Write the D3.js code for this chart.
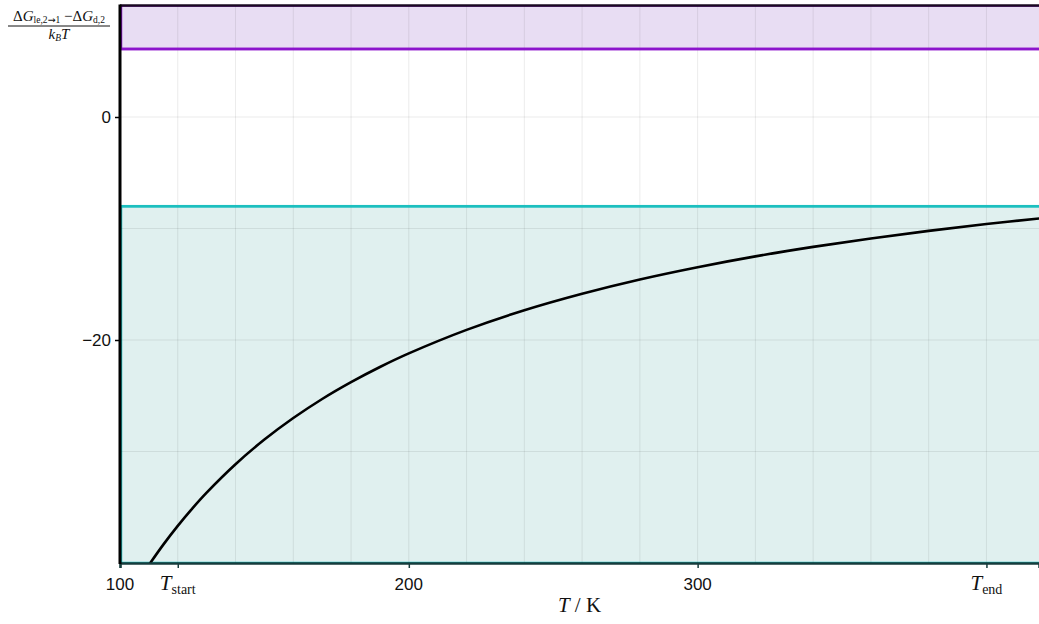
<!DOCTYPE html>
<html>
<head>
<meta charset="utf-8">
<script src="https://cdn.jsdelivr.net/npm/d3@7"></script>
<style>
	body { margin: 0; background: #fff; }
	svg { display: block; }
</style>
</head>
<body>
<script>
let width = 1039;
let height = 624;

// curve
const temps = [110, 115, 120, 125, 130, 140, 150, 160, 170, 180, 190, 200, 220, 240, 260, 280, 300, 320, 340, 360, 380, 400, 420];
const ratio = [-40.18, -38.35, -36.67, -35.12, -33.69, -31.14, -28.93, -27.00, -25.29, -23.78, -22.42, -21.20, -19.09, -17.33, -15.85, -14.57, -13.47, -12.50, -11.65, -10.89, -10.21, -9.60, -9.05];

// bands
const upperLimit = 6.1;
const lowerLimit = -8;

const xTicks = [100, 120, 200, 300, 400];
const xTickLabels = [['100'], ['T', 'start'], ['200'], ['300'], ['T', 'end']];
const yTicks = [0, -20];
const xGrid = [120, 140, 160, 180, 200, 220, 240, 260, 280, 300, 320, 340, 360, 380, 400];
const yGrid = [10, 0, -10, -20, -30];

let pLeft = 120, pRight = 1039, pTop = 5.5, pBottom = 563;

let x = d3.scaleLinear().domain([100, 418.2]).range([pLeft, pRight]);
let y = d3.scaleLinear().domain([-40, 10]).range([pBottom, pTop]);

let svg = d3.select('body').append('svg')
	.attr('width', width)
	.attr('height', height);

svg.append('defs').append('clipPath')
	.attr('id', 'plot')
	.append('rect')
	.attr('x', pLeft)
	.attr('y', pTop)
	.attr('width', pRight - pLeft)
	.attr('height', pBottom - pTop);

let plot = svg.append('g').attr('clip-path', 'url(#plot)');

// upper (purple) band
plot.append('rect')
	.attr('x', x(100) + 1)
	.attr('y', y(10))
	.attr('width', x(418.2) - x(100) + 5)
	.attr('height', y(upperLimit) - y(10))
	.style('fill', '#e8ddf3')
	.style('stroke', '#8c14cc')
	.style('stroke-width', 2.5);

// lower (cyan) band
plot.append('rect')
	.attr('x', x(100) + 1)
	.attr('y', y(lowerLimit))
	.attr('width', x(418.2) - x(100) + 5)
	.attr('height', y(-40) - y(lowerLimit))
	.style('fill', '#e0f0ef')
	.style('stroke', '#1cbfbf')
	.style('stroke-width', 2.5);

// grid
plot.selectAll('.vgrid').data(xGrid).enter().append('line')
	.attr('class', 'vgrid')
	.attr('x1', d => x(d)).attr('x2', d => x(d))
	.attr('y1', pTop).attr('y2', pBottom)
	.style('stroke', 'rgba(0, 0, 0, 0.08)')
	.style('stroke-width', 1);

plot.selectAll('.hgrid').data(yGrid).enter().append('line')
	.attr('class', 'hgrid')
	.attr('x1', pLeft).attr('x2', pRight)
	.attr('y1', d => y(d)).attr('y2', d => y(d))
	.style('stroke', 'rgba(0, 0, 0, 0.08)')
	.style('stroke-width', 1);

// redraw band edges over grid
plot.append('line')
	.attr('x1', pLeft).attr('x2', pRight)
	.attr('y1', y(upperLimit)).attr('y2', y(upperLimit))
	.style('stroke', '#8c14cc').style('stroke-width', 2.5);
plot.append('line')
	.attr('x1', pLeft).attr('x2', pRight)
	.attr('y1', y(lowerLimit)).attr('y2', y(lowerLimit))
	.style('stroke', '#1cbfbf').style('stroke-width', 2.5);

let line = d3.line()
	.x((d, i) => x(temps[i]))
	.y(d => y(d))
	.curve(d3.curveCatmullRom.alpha(0.5));

plot.append('path')
	.datum(ratio)
	.attr('d', line)
	.style('fill', 'none')
	.style('stroke', '#000')
	.style('stroke-width', 2.6);

// frame line on top
svg.append('line')
	.attr('x1', pLeft).attr('x2', pRight)
	.attr('y1', pTop).attr('y2', pTop)
	.style('stroke', '#1a0a22').style('stroke-width', 2.5);

let xAxis = svg.append('g')
	.attr('transform', 'translate(0,' + pBottom + ')')
	.call(d3.axisBottom(x).tickValues(xTicks).tickSize(5).tickFormat(''));
xAxis.select('.domain').style('stroke', '#173c3c').style('stroke-width', 2.5);
xAxis.selectAll('.tick line').style('stroke', '#173c3c').style('stroke-width', 1.5);

let yAxis = svg.append('g')
	.attr('transform', 'translate(' + pLeft + ',0)')
	.call(d3.axisLeft(y).tickValues(yTicks).tickSize(5).tickFormat(''));
yAxis.select('.domain').attr('d', 'M0,' + (pTop - 1) + 'V' + (pBottom + 1))
	.style('stroke', '#000').style('stroke-width', 3);
yAxis.selectAll('.tick line').style('stroke', '#000').style('stroke-width', 1.5);

// y tick labels
svg.selectAll('.ylab').data(yTicks).enter().append('text')
	.attr('class', 'ylab')
	.attr('x', pLeft - 9)
	.attr('y', d => y(d) + 6)
	.attr('text-anchor', 'end')
	.style('font-family', 'Liberation Sans, Arial, sans-serif')
	.style('font-size', '17px')
	.style('fill', '#111')
	.text(d => d < 0 ? '\u2212' + Math.abs(d) : d);

// x tick labels
let xl = svg.selectAll('.xlab').data(xTicks).enter().append('text')
	.attr('class', 'xlab')
	.attr('x', d => x(d))
	.attr('y', pBottom + 27)
	.attr('text-anchor', 'middle')
	.style('fill', '#111');

xl.each(function (d, i) {
	let t = d3.select(this);
	let parts = xTickLabels[i];
	if (parts.length === 1) {
		t.style('font-family', 'Liberation Sans, Arial, sans-serif')
			.style('font-size', '17px')
			.text(parts[0]);
	} else {
		t.style('font-family', 'Liberation Serif, Times New Roman, serif')
			.style('font-size', '21px');
		t.append('tspan').style('font-style', 'italic').text(parts[0]);
		t.append('tspan').attr('dy', 4).style('font-size', '14px').text(parts[1]);
	}
});

// x axis title
let xt = svg.append('text')
	.attr('x', (pLeft + pRight) / 2)
	.attr('y', 612)
	.attr('text-anchor', 'middle')
	.style('font-family', 'Liberation Serif, Times New Roman, serif')
	.style('font-size', '21px')
	.style('fill', '#111');
xt.append('tspan').style('font-style', 'italic').text('T');
xt.append('tspan').text(' / K');

// y axis title as a fraction
let yt = svg.append('g')
	.style('font-family', 'Liberation Serif, Times New Roman, serif')
	.style('fill', '#111');

let num = yt.append('text')
	.attr('x', 59)
	.attr('y', 21)
	.attr('text-anchor', 'middle')
	.style('font-size', '15px');
num.append('tspan').text('\u0394');
num.append('tspan').style('font-style', 'italic').text('G');
num.append('tspan').attr('dy', 2).style('font-size', '9.5px').text('le,2');
num.append('tspan').style('font-size', '9.5px').style('font-family', 'DejaVu Sans, sans-serif').text('\u2192');
num.append('tspan').style('font-size', '9.5px').text('1');
num.append('tspan').attr('dy', -2).text(' \u2212\u0394');
num.append('tspan').style('font-style', 'italic').text('G');
num.append('tspan').attr('dy', 2).style('font-size', '9.5px').text('d,2');

yt.append('line')
	.attr('x1', 8).attr('x2', 110)
	.attr('y1', 26).attr('y2', 26)
	.style('stroke', '#111').style('stroke-width', 1);

let den = yt.append('text')
	.attr('x', 59)
	.attr('y', 39)
	.attr('text-anchor', 'middle')
	.style('font-size', '15px');
den.append('tspan').style('font-style', 'italic').text('k');
den.append('tspan').attr('dy', 2).style('font-size', '9.5px').style('font-style', 'italic').text('B');
den.append('tspan').attr('dy', -2).style('font-style', 'italic').text('T');
</script>
</body>
</html>
